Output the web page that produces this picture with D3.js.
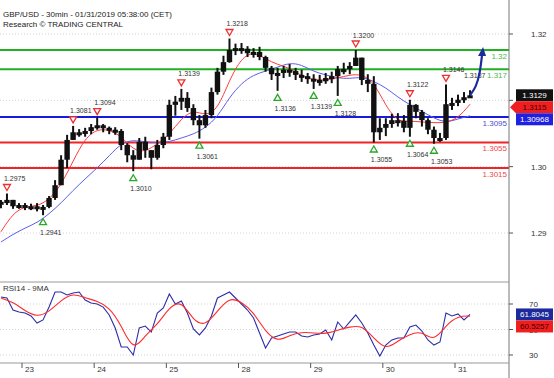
<!DOCTYPE html>
<html>
<head>
<meta charset="utf-8">
<script src="https://cdn.jsdelivr.net/npm/d3@7"></script>
<style>
body{margin:0;background:#fff;}
svg{display:block;font-family:"Liberation Sans",Arial,sans-serif;}
</style>
</head>
<body>
<div id="chart"></div>
<script>
// 2-hour bars, hours counted on trading days from 22 Jan 00:00
var firstHour = 16, barHours = 2, firstOpen = 1.2962;
var high = [1.2965,1.2975,1.2965,1.2960,1.2960,1.2959,1.2960,1.2957,1.2971,1.2996,
            1.3035,1.3067,1.3081,1.3076,1.3078,1.3084,1.3094,1.3084,1.3080,1.3079,
            1.3076,1.3054,1.3043,1.3062,1.3064,1.3043,1.3059,1.3070,1.3122,1.3128,
            1.3139,1.3134,1.3115,1.3098,1.3106,1.3141,1.3172,1.3191,1.3218,1.3210,
            1.3211,1.3206,1.3203,1.3205,1.3191,1.3175,1.3172,1.3175,1.3178,1.3172,
            1.3169,1.3164,1.3162,1.3161,1.3164,1.3166,1.3175,1.3180,1.3181,1.3200,
            1.3188,1.3162,1.3159,1.3093,1.3093,1.3100,1.3101,1.3098,1.3122,1.3115,
            1.3106,1.3093,1.3080,1.3070,1.3146,1.3125,1.3130,1.3134,1.3137];
var low  = [1.2952,1.2957,1.2951,1.2951,1.2949,1.2949,1.2947,1.2941,1.2952,1.2965,
            1.2988,1.3015,1.3059,1.3064,1.3064,1.3068,1.3075,1.3071,1.3068,1.3067,
            1.3043,1.3024,1.3010,1.3028,1.3031,1.3013,1.3028,1.3046,1.3059,1.3097,
            1.3106,1.3103,1.3082,1.3061,1.3078,1.3093,1.3130,1.3161,1.3180,1.3192,
            1.3194,1.3189,1.3188,1.3184,1.3166,1.3153,1.3136,1.3156,1.3158,1.3153,
            1.3150,1.3147,1.3139,1.3144,1.3147,1.3148,1.3128,1.3162,1.3162,1.3175,
            1.3145,1.3134,1.3055,1.3059,1.3065,1.3078,1.3080,1.3071,1.3064,1.3093,
            1.3080,1.3068,1.3053,1.3056,1.3059,1.3106,1.3112,1.3117,1.3125];
var close = [1.2960,1.2965,1.2955,1.2957,1.2954,1.2955,1.2952,1.2954,1.2968,1.2988,
            1.3028,1.3059,1.3071,1.3070,1.3073,1.3079,1.3082,1.3078,1.3075,1.3073,
            1.3051,1.3035,1.3028,1.3056,1.3043,1.3031,1.3051,1.3064,1.3114,1.3119,
            1.3125,1.3109,1.3090,1.3082,1.3098,1.3134,1.3166,1.3181,1.3200,1.3203,
            1.3202,1.3195,1.3197,1.3189,1.3172,1.3162,1.3164,1.3169,1.3167,1.3161,
            1.3159,1.3155,1.3153,1.3151,1.3156,1.3159,1.3170,1.3170,1.3175,1.3188,
            1.3153,1.3147,1.3071,1.3078,1.3084,1.3090,1.3089,1.3078,1.3114,1.3103,
            1.3090,1.3075,1.3062,1.3062,1.3115,1.3117,1.3122,1.3126,1.3129];

// moving averages, one value every 2 bars
var redMA = [1.2915,1.2944,1.2955,1.2955,1.2965,1.2988,1.3026,1.3062,1.3076,1.3075,
             1.3065,1.3043,1.3040,1.3053,1.3067,1.3093,1.3106,1.3097,1.3106,1.3153,
             1.3188,1.3197,1.3186,1.3177,1.3172,1.3159,1.3153,1.3153,1.3156,1.3161,
             1.3162,1.3150,1.3112,1.3087,1.3089,1.3087,1.3086,1.3086,1.3093,1.3115];
var blueMA = [1.2899,1.2911,1.2921,1.2929,1.2943,1.2960,1.2980,1.2998,1.3015,1.3034,
              1.3054,1.3059,1.3056,1.3054,1.3056,1.3062,1.3068,1.3078,1.3095,1.3126,
              1.3148,1.3161,1.3167,1.3173,1.3180,1.3177,1.3166,1.3161,1.3156,1.3155,
              1.3158,1.3151,1.3141,1.3126,1.3114,1.3104,1.3093,1.3086,1.3092,1.30968];

var rsi = [75.5,74.7,65.3,63.7,62.9,60.6,55.1,57.5,67.6,79.4,
           79.4,77.1,78.6,79.4,73.1,70.8,70.0,67.6,61.4,51.2,
           36.3,36.3,30.0,51.2,52.7,48.0,62.9,66.9,77.8,70.0,
           72.4,62.9,50.4,45.7,51.2,60.6,74.7,77.1,79.4,74.7,
           70.0,65.3,59.0,47.3,35.5,43.3,44.9,46.5,48.0,48.0,
           44.9,44.1,45.7,46.5,49.6,41.8,55.9,50.4,55.9,61.4,
           55.1,47.3,37.8,29.2,37.8,41.8,43.3,43.3,52.0,53.5,
           48.8,41.8,37.8,40.2,62.9,60.6,62.2,57.5,61.8045];
var rsiMA = [74.7,71.6,64.5,59.8,63.7,73.1,78.6,74.7,72.4,67.6,
             53.5,32.4,45.7,53.5,67.6,73.1,56.7,52.7,64.5,75.5,
             71.6,63.7,48.0,40.2,45.7,48.0,47.3,46.5,49.6,52.0,
             53.5,43.3,33.9,41.0,46.5,48.8,40.2,53.5,60.6,60.5257];

var days = ["23","24","25","28","29","30","31"];
var levels = [1.3200,1.3170,1.3095,1.3055,1.3015];
var levelText = ["1.32","1.317","1.3095","1.3055","1.3015"];
var levelKind = ["res","res","pivot","sup","sup"];

var pivotBar = [1,7,12,16,22,30,33,38,46,52,56,59,62,68,68,72,74];
var pivotType = ["H","L","H","H","L","H","L","H","L","L","L","H","L","L","H","L","H"];
var pivotValue = [1.2975,1.2941,1.3081,1.3094,1.3010,1.3139,1.3061,1.3218,1.3136,1.3139,
                  1.3128,1.3200,1.3055,1.3064,1.3122,1.3053,1.3146];
var targetText = "1.3187";

var yTicks = [1.29,1.30,1.31,1.32];
var yTickLabels = ["1.29","1.30","","1.32"]; // 1.31 sits under the price tags
var rsiTicks = [30,50,70];

var W = 554, H = 378, axisX = 509;
var kindColor = {res:"#22b022", pivot:"#1a1adc", sup:"#f02424"};
var kindText = {res:"#4cb84c", pivot:"#4c4cd8", sup:"#f04848"};

var svg = d3.select("#chart").append("svg").attr("width", W).attr("height", H);

var x = d3.scaleLinear().domain([24,168]).range([22,455]);
var y = d3.scaleLinear().domain([1.3015,1.3200]).range([168,50]);
var yAxisScale = d3.scaleLinear().domain([1.29,1.32]).range([233,34]);
var yr = d3.scaleLinear().domain([30,70]).range([355,304]);

var bars = close.map(function(c,i){
    return {i:i, h:firstHour + i*barHours + barHours/2, o: i ? close[i-1] : firstOpen,
            hi:high[i], lo:low[i], c:c};
});
function halfSeries(arr){ return arr.map(function(v,k){ return {h:firstHour + k*2*barHours + 1, v:v}; }); }

var main = svg.append("g");
main.append("clipPath").attr("id","clipMain").append("rect")
    .attr("x",0).attr("y",0).attr("width",axisX).attr("height",272);

// faint grid
main.selectAll("line.grid").data(yTicks).enter().append("line")
    .attr("x1",0).attr("x2",axisX)
    .attr("y1",function(d){return yAxisScale(d);}).attr("y2",function(d){return yAxisScale(d);})
    .attr("stroke","#d4d4d4").attr("stroke-dasharray","1,2");

// support / resistance lines
main.selectAll("line.lvl").data(levels).enter().append("line")
    .attr("x1",0).attr("x2",axisX)
    .attr("y1",function(d){return y(d);}).attr("y2",function(d){return y(d);})
    .attr("stroke",function(d,i){return kindColor[levelKind[i]];}).attr("stroke-width",2);
main.selectAll("text.lvl").data(levels).enter().append("text")
    .attr("x",axisX-2).attr("y",function(d){return y(d)+9;})
    .attr("text-anchor","end").attr("font-size",8)
    .attr("fill",function(d,i){return kindText[levelKind[i]];})
    .text(function(d,i){return levelText[i];});

// moving averages
var maLine = d3.line().x(function(d){return x(d.h);}).y(function(d){return y(d.v);}).curve(d3.curveBasis);
var gMA = main.append("g").attr("clip-path","url(#clipMain)");
gMA.append("path").attr("d",maLine(halfSeries(blueMA))).attr("fill","none").attr("stroke","#5c5cf0").attr("stroke-width",1);
gMA.append("path").attr("d",maLine(halfSeries(redMA))).attr("fill","none").attr("stroke","#ff3a3a").attr("stroke-width",1);

// candles
var gC = main.append("g");
gC.selectAll("line.wick").data(bars).enter().append("line")
    .attr("x1",function(d){return x(d.h);}).attr("x2",function(d){return x(d.h);})
    .attr("y1",function(d){return y(d.hi);}).attr("y2",function(d){return y(d.lo);})
    .attr("stroke","#111").attr("stroke-width",2);
gC.selectAll("rect.body").data(bars).enter().append("rect")
    .attr("x",function(d){return x(d.h)-2.7;}).attr("width",5.4)
    .attr("y",function(d){return y(Math.max(d.o,d.c));})
    .attr("height",function(d){return Math.max(3, Math.abs(y(d.o)-y(d.c)));})
    .attr("fill","#111");

// pivot markers
var pivots = pivotBar.map(function(b,k){ return {h:bars[b].h, t:pivotType[k], v:pivotValue[k]}; });
var gP = main.append("g");
gP.selectAll("path.tri").data(pivots).enter().append("path")
    .attr("d",function(d){
        var cx = x(d.h);
        if (d.t === "H") { var cy = y(d.v)-6; return "M"+(cx-3.5)+","+(cy-3)+"L"+(cx+3.5)+","+(cy-3)+"L"+cx+","+(cy+3)+"Z"; }
        var cy2 = y(d.v)+6.5; return "M"+(cx-3.5)+","+(cy2+3)+"L"+(cx+3.5)+","+(cy2+3)+"L"+cx+","+(cy2-3)+"Z";
    })
    .attr("fill","#fff").attr("stroke",function(d){return d.t==="H"?"#f03030":"#2aa82a";}).attr("stroke-width",1.3);
gP.selectAll("text.piv").data(pivots).enter().append("text")
    .attr("x",function(d){return x(d.h)-3;})
    .attr("y",function(d){return d.t==="H" ? y(d.v)-12.5 : y(d.v)+20;})
    .attr("font-size",7).attr("fill","#333")
    .text(function(d){return d.v.toFixed(4);});

// projection arrow to first resistance
var last = bars[bars.length-1];
var x0 = x(last.h), y0 = y(last.c), yTop = y(levels[0]);
main.append("text").attr("x",x0-6).attr("y",y0-17).attr("font-size",7).attr("fill","#333").text(targetText);
var arrowPts = [[x0,y0],[x0+6,y0-8],[x0+10,(y0+yTop)/2],[x0+12,yTop+5]];
main.append("path").attr("d",d3.line().curve(d3.curveBasis)(arrowPts))
    .attr("fill","none").attr("stroke","#1c2a9c").attr("stroke-width",2.2);
main.append("path").attr("d","M"+(x0+8)+","+(yTop+6)+"L"+(x0+16)+","+(yTop+6)+"L"+(x0+13)+","+(yTop-3)+"Z")
    .attr("fill","#1c2a9c");

// title
svg.append("text").attr("x",3).attr("y",17).attr("font-size",8).attr("fill","#222")
    .text("GBP/USD - 30min - 01/31/2019 05:38:00 (CET)");
svg.append("text").attr("x",3).attr("y",27).attr("font-size",8).attr("fill","#222")
    .text("Research \u00a9 TRADING CENTRAL");

// right axis
svg.append("line").attr("x1",axisX).attr("x2",axisX).attr("y1",0).attr("y2",H).attr("stroke","#777");
svg.selectAll("line.yt").data(yTicks).enter().append("line")
    .attr("x1",axisX).attr("x2",axisX+4)
    .attr("y1",function(d){return yAxisScale(d);}).attr("y2",function(d){return yAxisScale(d);})
    .attr("stroke","#555");
svg.selectAll("text.yt").data(yTicks).enter().append("text")
    .attr("x",531).attr("y",function(d){return yAxisScale(d)+3;})
    .attr("font-size",8).attr("fill","#333")
    .text(function(d,i){return yTickLabels[i];});

function tag(cy, txt, fill, col, pointer){
    var g = svg.append("g");
    if (pointer) {
        g.append("path").attr("d","M510,"+cy+"L516,"+(cy-6)+"L553,"+(cy-6)+"L553,"+(cy+6)+"L516,"+(cy+6)+"Z").attr("fill",fill);
    } else {
        g.append("rect").attr("x",516).attr("y",cy-6).attr("width",37).attr("height",12).attr("fill",fill);
    }
    g.append("text").attr("x",534.5).attr("y",cy+3).attr("text-anchor","middle")
        .attr("font-size",8).attr("fill",col).text(txt);
}
var c1 = y(last.c);
var c2 = Math.max(y(redMA[redMA.length-1]), c1+12);
var c3 = Math.max(y(blueMA[blueMA.length-1]), c2+12);
tag(c1, close[close.length-1].toFixed(4), "#111", "#fff", false);
tag(c2, redMA[redMA.length-1].toFixed(4), "#f01e1e", "#3a0000", true);
tag(c3, blueMA[blueMA.length-1].toFixed(5), "#2020e0", "#fff", false);

// RSI panel
svg.append("line").attr("x1",0).attr("x2",axisX).attr("y1",282).attr("y2",282).attr("stroke","#999");
svg.append("line").attr("x1",0).attr("x2",axisX).attr("y1",363).attr("y2",363).attr("stroke","#999");
svg.append("text").attr("x",3).attr("y",291).attr("font-size",8).attr("fill","#333").text("RSI14 - 9MA");
svg.selectAll("line.rg").data(rsiTicks).enter().append("line")
    .attr("x1",0).attr("x2",axisX)
    .attr("y1",function(d){return yr(d);}).attr("y2",function(d){return yr(d);})
    .attr("stroke","#d4d4d4").attr("stroke-dasharray","1,2");
svg.selectAll("text.rt").data(rsiTicks).enter().append("text")
    .attr("x",529).attr("y",function(d){return yr(d)+3;})
    .attr("font-size",8).attr("fill","#333").text(function(d){return d;});
svg.selectAll("line.rtk").data(rsiTicks).enter().append("line")
    .attr("x1",axisX).attr("x2",axisX+4)
    .attr("y1",function(d){return yr(d);}).attr("y2",function(d){return yr(d);})
    .attr("stroke","#555");

var rsiLine = d3.line().x(function(d){return x(d.h);}).y(function(d){return yr(d.v);});
svg.append("path").attr("d",rsiLine(bars.map(function(b){return {h:b.h, v:rsi[b.i]};})))
    .attr("fill","none").attr("stroke","#2c2ca8").attr("stroke-width",1.1);
svg.append("path").attr("d",rsiLine.curve(d3.curveBasis)(halfSeries(rsiMA)))
    .attr("fill","none").attr("stroke","#ff2a2a").attr("stroke-width",1.1);

var r1 = yr(rsi[rsi.length-1]);
var r2 = Math.max(yr(rsiMA[rsiMA.length-1]), r1+12);
tag(r1, rsi[rsi.length-1].toFixed(4), "#1c2a9c", "#fff", false);
tag(r2, rsiMA[rsiMA.length-1].toFixed(4), "#f01e1e", "#3a0000", false);

// day axis
svg.selectAll("line.dt").data(days).enter().append("line")
    .attr("x1",function(d,i){return x(24*(i+1));}).attr("x2",function(d,i){return x(24*(i+1));})
    .attr("y1",363).attr("y2",368).attr("stroke","#555");
svg.selectAll("text.dt").data(days).enter().append("text")
    .attr("x",function(d,i){return x(24*(i+1))+3;}).attr("y",372)
    .attr("font-size",8).attr("fill","#333").text(function(d){return d;});
</script>
</body>
</html>
